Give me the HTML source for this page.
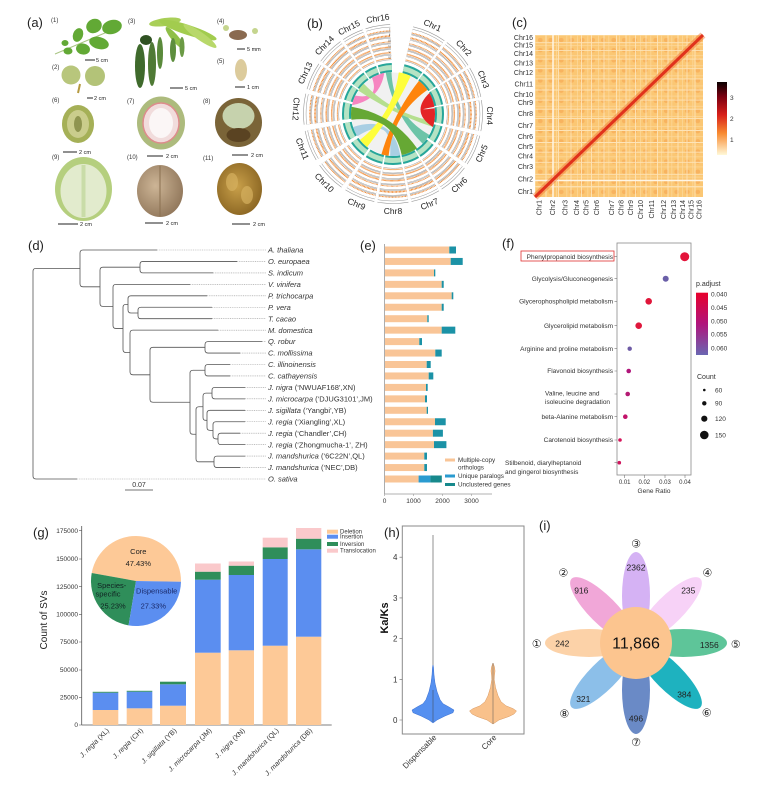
<!DOCTYPE html>
<html><head><meta charset="utf-8">
<style>
html,body{margin:0;padding:0;background:#fff;}
svg{display:block;font-family:"Liberation Sans",Arial,sans-serif;}
</style></head>
<body>
<svg width="784" height="790" viewBox="0 0 784 790" xmlns="http://www.w3.org/2000/svg">
<defs>
  <circle id="u" cx="0" cy="0" r="57.2958" fill="none" stroke-dasharray="0 13 22 2 20 2 20 2 20 3 20 3 20 2 19 2 20 2 20 3 20 4 20 4 20 3 18 2 18 2 14 2 16 2"/>
  <circle id="v" cx="0" cy="0" r="57.2958" fill="none" stroke-dasharray="0.6 0.4"/>
  <mask id="sec" maskUnits="userSpaceOnUse" x="0" y="0" width="784" height="790">
    <use href="#u" transform="translate(393 114) scale(1.2217) rotate(-90)" stroke="#fff" stroke-width="29.5"/>
  </mask>
  <linearGradient id="cbar" x1="0" y1="0" x2="0" y2="1">
    <stop offset="0" stop-color="#0a0000"/><stop offset="0.2" stop-color="#7a0010"/>
    <stop offset="0.45" stop-color="#d8201a"/><stop offset="0.7" stop-color="#f88a30"/>
    <stop offset="1" stop-color="#fff8d8"/>
  </linearGradient>
  <linearGradient id="pbar" x1="0" y1="0" x2="0" y2="1">
    <stop offset="0" stop-color="#e8002b"/><stop offset="0.5" stop-color="#b0147c"/><stop offset="1" stop-color="#6a67b2"/>
  </linearGradient>
  <pattern id="hp" x="535" y="35" width="10.5" height="10.125" patternUnits="userSpaceOnUse">
    <rect width="10.5" height="10.125" fill="#fbc774"/>
    <ellipse cx="5.25" cy="5.06" rx="2.4" ry="2.2" fill="#f5a24e" opacity="0.55"/>
    <rect x="0" y="0" width="10.5" height="0.7" fill="#fcd99c"/>
    <rect x="0" y="0" width="0.7" height="10.125" fill="#fcd99c"/>
  </pattern>
  <radialGradient id="nut" cx="0.4" cy="0.4" r="0.7">
    <stop offset="0" stop-color="#cdb596"/><stop offset="1" stop-color="#8c7256"/>
  </radialGradient>
  <radialGradient id="kern" cx="0.45" cy="0.45" r="0.6">
    <stop offset="0" stop-color="#c9a04a"/><stop offset="1" stop-color="#8a6522"/>
  </radialGradient>
</defs>

<!-- ============ (a) ============ -->
<text x="27" y="27" font-size="13" fill="#222">(a)</text>
<g font-size="6" fill="#333">
  <text x="51" y="22">(1)</text><text x="52" y="69">(2)</text><text x="128" y="23">(3)</text>
  <text x="217" y="23">(4)</text><text x="217" y="63">(5)</text><text x="52" y="102">(6)</text>
  <text x="127" y="103">(7)</text><text x="203" y="103">(8)</text><text x="52" y="159">(9)</text>
  <text x="127" y="159">(10)</text><text x="203" y="160">(11)</text>
</g>
<line x1="55" y1="54" x2="112" y2="30" stroke="#a9c583" stroke-width="1"/>
<g fill="#62a935">
  <ellipse cx="94" cy="26" rx="8" ry="7" transform="rotate(-30 94 26)"/>
  <ellipse cx="112" cy="27" rx="10" ry="7" transform="rotate(-15 112 27)"/>
  <ellipse cx="78" cy="35" rx="5" ry="7" transform="rotate(20 78 35)"/>
  <ellipse cx="99" cy="43" rx="10" ry="6" transform="rotate(15 99 43)"/>
  <ellipse cx="83" cy="49" rx="7" ry="5.5" transform="rotate(10 83 49)"/>
  <ellipse cx="68" cy="51" rx="4.5" ry="3.5"/>
  <ellipse cx="65" cy="43" rx="3.5" ry="3"/>
</g>
<g>
  <ellipse cx="165" cy="22" rx="16" ry="4" fill="#a9cf58" transform="rotate(-8 165 22)"/>
  <ellipse cx="188" cy="30" rx="30" ry="5" fill="#a2cc4e" transform="rotate(18 188 30)"/>
  <ellipse cx="200" cy="36" rx="20" ry="4" fill="#b8d86a" transform="rotate(35 200 36)"/>
  <ellipse cx="175" cy="38" rx="14" ry="3.5" fill="#8fbf48" transform="rotate(50 175 38)"/>
  <ellipse cx="140" cy="66" rx="5" ry="22" fill="#3f6a2c"/>
  <ellipse cx="152" cy="64" rx="4" ry="22" fill="#4f7a35"/>
  <ellipse cx="160" cy="53" rx="3" ry="16" fill="#5a8a3b"/>
  <ellipse cx="173" cy="50" rx="3" ry="12" fill="#5d8e3d"/>
  <ellipse cx="182" cy="47" rx="2.5" ry="10" fill="#6b9a45"/>
  <ellipse cx="146" cy="40" rx="6" ry="5" fill="#2f5222"/>
</g>
<ellipse cx="238" cy="35" rx="9" ry="5" fill="#8a6a50"/>
<circle cx="226" cy="28" r="3" fill="#c5d58e"/><circle cx="255" cy="31" r="3" fill="#c5d58e"/>
<ellipse cx="241" cy="70" rx="6" ry="11" fill="#dccb9c"/>
<line x1="80" y1="84" x2="78" y2="93" stroke="#b59a40" stroke-width="2"/>
<circle cx="71" cy="75" r="9.5" fill="#b8c67c"/><circle cx="95" cy="76" r="10" fill="#b3c378"/>
<ellipse cx="78" cy="124" rx="16" ry="19" fill="#a5b057"/>
<ellipse cx="78" cy="124" rx="11" ry="14" fill="#cacd8c"/>
<ellipse cx="78" cy="124" rx="4" ry="8" fill="#8f9550"/>
<ellipse cx="161" cy="123" rx="24" ry="26.5" fill="#adbb7d"/>
<ellipse cx="161" cy="123" rx="18" ry="20" fill="#f1dcdc" stroke="#dd8c8c" stroke-width="1.5"/>
<ellipse cx="161" cy="123" rx="12" ry="15" fill="#fbf6f6"/>
<ellipse cx="238.5" cy="122.5" rx="23.5" ry="24.5" fill="#7a6438"/>
<ellipse cx="238.5" cy="116" rx="16" ry="13" fill="#c6d2ad"/>
<ellipse cx="238.5" cy="135" rx="12" ry="7" fill="#5a4322"/>
<ellipse cx="83.5" cy="189" rx="28.5" ry="32" fill="#b5cf7e"/>
<ellipse cx="83.5" cy="191" rx="23" ry="27" fill="#e2ebcd"/>
<rect x="81.5" y="165" width="4" height="52" fill="#c9dca8"/>
<ellipse cx="160" cy="191" rx="23" ry="26" fill="url(#nut)"/>
<line x1="160" y1="166" x2="160" y2="216" stroke="#8a7050" stroke-width="1"/>
<ellipse cx="239.5" cy="189" rx="22.5" ry="26" fill="url(#kern)"/>
<ellipse cx="232" cy="182" rx="6" ry="9" fill="#d6b060" opacity="0.7"/>
<ellipse cx="247" cy="195" rx="6" ry="9" fill="#d6b060" opacity="0.7"/>
<g stroke="#222" stroke-width="1">
  <line x1="85" y1="60" x2="95" y2="60"/><line x1="87" y1="98" x2="93" y2="98"/>
  <line x1="170" y1="88" x2="183" y2="88"/><line x1="237" y1="49" x2="245" y2="49"/>
  <line x1="235" y1="87" x2="245" y2="87"/><line x1="63" y1="152" x2="77" y2="152"/>
  <line x1="147" y1="156" x2="163" y2="156"/><line x1="232" y1="155" x2="248" y2="155"/>
  <line x1="58" y1="224" x2="78" y2="224"/><line x1="145" y1="223" x2="163" y2="223"/>
  <line x1="232" y1="224" x2="250" y2="224"/>
</g>
<g font-size="5.5" fill="#222">
  <text x="96" y="62">5 cm</text><text x="94" y="100">2 cm</text><text x="185" y="90">5 cm</text>
  <text x="247" y="51">5 mm</text><text x="247" y="89">1 cm</text><text x="79" y="154">2 cm</text>
  <text x="166" y="158">2 cm</text><text x="251" y="157">2 cm</text><text x="80" y="226">2 cm</text>
  <text x="166" y="225">2 cm</text><text x="253" y="226">2 cm</text>
</g>

<!-- ============ (b) circos ============ -->
<text x="307" y="28" font-size="13" fill="#222">(b)</text>
<use href="#u" transform="translate(393 114) scale(1.5621) rotate(-90)" stroke="#999" stroke-width="0.384"/>
<use href="#u" transform="translate(393 114) scale(1.4765) rotate(-90)" stroke="#9a9a9a" stroke-width="3.522"/>
<use href="#u" transform="translate(393 114) scale(1.4765) rotate(-90)" stroke="#ffffff" stroke-width="2.845"/>
<use href="#u" transform="translate(393 114) scale(1.3788) rotate(-90)" stroke="#9a9a9a" stroke-width="3.771"/>
<use href="#u" transform="translate(393 114) scale(1.3788) rotate(-90)" stroke="#ffffff" stroke-width="3.046"/>
<use href="#u" transform="translate(393 114) scale(1.2811) rotate(-90)" stroke="#9a9a9a" stroke-width="4.059"/>
<use href="#u" transform="translate(393 114) scale(1.2811) rotate(-90)" stroke="#ffffff" stroke-width="3.278"/>
<use href="#u" transform="translate(393 114) scale(1.1833) rotate(-90)" stroke="#9a9a9a" stroke-width="4.394"/>
<use href="#u" transform="translate(393 114) scale(1.1833) rotate(-90)" stroke="#ffffff" stroke-width="3.549"/>
<use href="#u" transform="translate(393 114) scale(1.0856) rotate(-90)" stroke="#9a9a9a" stroke-width="4.790"/>
<use href="#u" transform="translate(393 114) scale(1.0856) rotate(-90)" stroke="#ffffff" stroke-width="3.869"/>
<use href="#u" transform="translate(393 114) scale(0.9879) rotate(-90)" stroke="#9a9a9a" stroke-width="5.264"/>
<use href="#u" transform="translate(393 114) scale(0.9879) rotate(-90)" stroke="#ffffff" stroke-width="4.251"/>
<g mask="url(#sec)">
<use href="#v" transform="translate(393 114) scale(1.4521)" stroke="#ef7d1c" stroke-width="0.7"/>
<use href="#v" transform="translate(393 114) scale(1.3614)" stroke="#ef7d1c" stroke-width="1.2"/>
<use href="#v" transform="translate(393 114) scale(1.2601)" stroke="#ef7d1c" stroke-width="0.8"/>
<use href="#v" transform="translate(393 114) scale(1.1659)" stroke="#ef7d1c" stroke-width="1.3"/>
<use href="#v" transform="translate(393 114) scale(1.0700)" stroke="#ef7d1c" stroke-width="1.4"/>
<use href="#v" transform="translate(393 114) scale(0.9704)" stroke="#ef7d1c" stroke-width="1.2"/>
</g>
<use href="#u" transform="translate(393 114) scale(0.8116) rotate(-90)" stroke="#26a69a" stroke-width="11.09"/>
<use href="#u" transform="translate(393 114) scale(0.8116) rotate(-90)" stroke="#b5e3c4" stroke-width="6.16"/>
<circle cx="393" cy="114" r="41.5" fill="#f1f1f1"/>
<g opacity="0.95">
<path d="M351.9 105.3 A42 42 0 0 1 355.2 95.6 Q380 100 372 77.6 A42 42 0 0 1 384.3 72.9 Q380 100 351.9 105.3Z" fill="#f781bf"/>
<path d="M400.3 155.4 A42 42 0 0 1 390.1 155.9 Q393 114 357.4 136.3 A42 42 0 0 1 353.1 127 Q393 114 400.3 155.4Z" fill="#a6cee3"/>
<path d="M429.4 135 A42 42 0 0 1 422.7 143.7 Q393 114 385.7 72.6 A42 42 0 0 1 391.5 72.0 Q393 114 429.4 135Z" fill="#66c2a5"/>
<path d="M434.4 121.3 A42 42 0 0 1 432.9 127 Q393 114 358.2 90.5 A42 42 0 0 1 363.8 83.8 Q393 114 434.4 121.3Z" fill="#b2df8a"/>
<path d="M398.8 72.4 A42 42 0 0 1 410.8 76.0 Q393 114 367.1 147.1 A42 42 0 0 1 359.9 139.9 Q393 114 398.8 72.4Z" fill="#ffff33"/>
<path d="M418.9 80.9 A42 42 0 0 1 427.4 89.9 Q393 114 388.6 155.8 A42 42 0 0 1 381.4 154.4 Q393 114 418.9 80.9Z" fill="#ff7f00"/>
<path d="M417.1 148.4 A42 42 0 0 1 401.7 155.1 Q393 114 351.4 119.8 A42 42 0 0 1 351.6 106.7 Q393 114 417.1 148.4Z" fill="#5fa52a"/>
<path d="M429.4 93 A42 42 0 0 1 434.4 106.7 Q412 111 434.6 108.2 A42 42 0 0 1 432.9 127 Q410 112 429.4 93Z" fill="#e41a1c"/>
</g>
<g font-size="3.6" fill="#555" text-anchor="middle">
  <text x="389.5" y="30.6">i</text><text x="389.5" y="36.2">ii</text><text x="389.5" y="41.8">iii</text>
  <text x="389.5" y="47.4">iv</text><text x="389.5" y="53">v</text><text x="389.5" y="58.6">vi</text>
</g>
<g font-size="8.5" fill="#222" text-anchor="middle" dominant-baseline="central">
  <text transform="translate(432.5 25.3) rotate(24)">Chr1</text>
  <text transform="translate(463.9 47.8) rotate(47)">Chr2</text>
  <text transform="translate(483.6 79.3) rotate(69)">Chr3</text>
  <text transform="translate(490 115.7) rotate(91)">Chr4</text>
  <text transform="translate(481.6 153.4) rotate(-66)">Chr5</text>
  <text transform="translate(459.2 184.9) rotate(-43)">Chr6</text>
  <text transform="translate(429.4 203.9) rotate(-22)">Chr7</text>
  <text transform="translate(393 211) rotate(0)">Chr8</text>
  <text transform="translate(356.6 203.9) rotate(22)">Chr9</text>
  <text transform="translate(324.4 182.6) rotate(45)">Chr10</text>
  <text transform="translate(302.4 148.7) rotate(69)">Chr11</text>
  <text transform="translate(296.1 109) rotate(93)">Chr12</text>
  <text transform="translate(305.1 73) rotate(-65)">Chr13</text>
  <text transform="translate(324.4 45.4) rotate(-45)">Chr14</text>
  <text transform="translate(349 27.6) rotate(-27)">Chr15</text>
  <text transform="translate(377.9 18.2) rotate(-9)">Chr16</text>
</g>

<!-- ============ (c) heatmap ============ -->
<text x="512" y="27" font-size="13" fill="#222">(c)</text>
<rect x="535" y="35" width="168" height="162" fill="url(#hp)"/>
<g stroke="#fde4b8" stroke-width="0.9">
  <path d="M546 35V197M558.5 35V197M571 35V197M581.5 35V197M591.5 35V197M604 35V197M616.5 35V197M626 35V197M635.5 35V197M646 35V197M657.5 35V197M668 35V197M678 35V197M687 35V197M695 35V197"/>
  <path d="M535 186.4H703M535 174.3H703M535 162.3H703M535 152.2H703M535 142.5H703M535 130.5H703M535 118.4H703M535 109.2H703M535 100.1H703M535 90H703M535 78.9H703M535 68.7H703M535 59.1H703M535 50.4H703M535 42.7H703"/>
</g>
<line x1="553" y1="35" x2="553" y2="197" stroke="#fff6e6" stroke-width="1.5"/>
<line x1="535" y1="180.5" x2="703" y2="180.5" stroke="#fff6e6" stroke-width="1.5"/>
<line x1="535" y1="197" x2="703" y2="35" stroke="#f07030" stroke-width="7" opacity="0.45"/>
<line x1="535" y1="197" x2="703" y2="35" stroke="#e0321c" stroke-width="3"/>
<g font-size="7" fill="#333" text-anchor="end">
  <text x="533" y="40">Chr16</text><text x="533" y="47.5">Chr15</text><text x="533" y="56">Chr14</text>
  <text x="533" y="65.5">Chr13</text><text x="533" y="75">Chr12</text><text x="533" y="86.5">Chr11</text>
  <text x="533" y="96.8">Chr10</text><text x="533" y="105">Chr9</text><text x="533" y="115.8">Chr8</text>
  <text x="533" y="128">Chr7</text><text x="533" y="139">Chr6</text><text x="533" y="149">Chr5</text>
  <text x="533" y="158.5">Chr4</text><text x="533" y="169">Chr3</text><text x="533" y="181.5">Chr2</text>
  <text x="533" y="194">Chr1</text>
</g>
<g font-size="7" fill="#333" text-anchor="end">
  <text transform="translate(541.5 200) rotate(-90)">Chr1</text>
  <text transform="translate(554.8 200) rotate(-90)">Chr2</text>
  <text transform="translate(567.5 200) rotate(-90)">Chr3</text>
  <text transform="translate(579.2 200) rotate(-90)">Chr4</text>
  <text transform="translate(588.5 200) rotate(-90)">Chr5</text>
  <text transform="translate(599.2 200) rotate(-90)">Chr6</text>
  <text transform="translate(614.2 200) rotate(-90)">Chr7</text>
  <text transform="translate(623.5 200) rotate(-90)">Chr8</text>
  <text transform="translate(633.2 200) rotate(-90)">Chr9</text>
  <text transform="translate(643.2 200) rotate(-90)">Chr10</text>
  <text transform="translate(654.2 200) rotate(-90)">Chr11</text>
  <text transform="translate(665.8 200) rotate(-90)">Chr12</text>
  <text transform="translate(675.8 200) rotate(-90)">Chr13</text>
  <text transform="translate(685.2 200) rotate(-90)">Chr14</text>
  <text transform="translate(693.5 200) rotate(-90)">Chr15</text>
  <text transform="translate(701.5 200) rotate(-90)">Chr16</text>
</g>
<rect x="717" y="82" width="10" height="73" fill="url(#cbar)"/>
<g font-size="6.5" fill="#333">
  <text x="730" y="100">3</text><text x="730" y="121">2</text><text x="730" y="142">1</text>
</g>

<!-- ============ (d) tree ============ -->
<text x="28" y="250" font-size="13" fill="#222">(d)</text>
<g fill="none" stroke="#555" stroke-width="0.8">
<path d="M80 268.4H36Q33 268.4 33 271.4V476Q33 479 36 479H77"/>
<path d="M157 250H83Q80 250 80 253V283.79Q80 286.79 83 286.79H100"/>
<path d="M140 267.18H103Q100 267.18 100 270.18V303.4Q100 306.4 103 306.4H113"/>
<path d="M237 261.45H143Q140 261.45 140 264.45V269.9Q140 272.9 143 272.9H213"/>
<path d="M190 284.35H116Q113 284.35 113 287.35V325.44Q113 328.44 116 328.44H123"/>
<path d="M128 304.39H126Q123 304.39 123 307.39V349.48Q123 352.48 126 352.48H130"/>
<path d="M207 295.8H131Q128 295.8 128 298.8V309.98Q128 312.98 131 312.98H138"/>
<path d="M212 307.25H141Q138 307.25 138 310.25V315.7Q138 318.7 141 318.7H212"/>
<path d="M218 330.15H133Q130 330.15 130 333.15V371.8Q130 374.8 133 374.8H150"/>
<path d="M205 347.33H153Q150 347.33 150 350.33V399.26Q150 402.26 153 402.26H190"/>
<path d="M262 341.6H208Q205 341.6 205 344.6V350.05Q205 353.05 208 353.05H240"/>
<path d="M205 370.23H193Q190 370.23 190 373.23V431.28Q190 434.28 193 434.28H196"/>
<path d="M230 364.5H208Q205 364.5 205 367.5V372.95Q205 375.95 208 375.95H230"/>
<path d="M203 406.73H199Q196 406.73 196 409.73V458.83Q196 461.83 199 461.83H214"/>
<path d="M212 393.13H206Q203 393.13 203 396.13V417.32Q203 420.32 206 420.32H207"/>
<path d="M245 387.4H215Q212 387.4 212 390.4V395.85Q212 398.85 215 398.85H245"/>
<path d="M245 410.3H210Q207 410.3 207 413.3V427.34Q207 430.34 210 430.34H213"/>
<path d="M245 421.75H216Q213 421.75 213 424.75V435.93Q213 438.93 216 438.93H218"/>
<path d="M240 433.2H221Q218 433.2 218 436.2V441.65Q218 444.65 221 444.65H245"/>
<path d="M245 456.1H217Q214 456.1 214 459.1V464.55Q214 467.55 217 467.55H240"/>
</g>
<path d="M157 250H266M237 261.45H266M213 272.9H266M190 284.35H266M207 295.8H266M212 307.25H266M212 318.7H266M218 330.15H266M262 341.6H266M240 353.05H266M230 364.5H266M230 375.95H266M245 387.4H266M245 398.85H266M245 410.3H266M245 421.75H266M240 433.2H266M245 444.65H266M245 456.1H266M240 467.55H266M77 479H266" fill="none" stroke="#999" stroke-width="0.6" stroke-dasharray="1 0.8"/>
<g font-size="7.5" fill="#333">
  <text x="268" y="252.6" font-style="italic">A. thaliana</text>
  <text x="268" y="264" font-style="italic">O. europaea</text>
  <text x="268" y="275.5" font-style="italic">S. indicum</text>
  <text x="268" y="287" font-style="italic">V. vinifera</text>
  <text x="268" y="298.4" font-style="italic">P. trichocarpa</text>
  <text x="268" y="309.9" font-style="italic">P. vera</text>
  <text x="268" y="321.3" font-style="italic">T. cacao</text>
  <text x="268" y="332.8" font-style="italic">M. domestica</text>
  <text x="268" y="344.2" font-style="italic">Q. robur</text>
  <text x="268" y="355.7" font-style="italic">C. mollissima</text>
  <text x="268" y="367.1" font-style="italic">C.  illinoinensis</text>
  <text x="268" y="378.6" font-style="italic">C. cathayensis</text>
  <text x="268" y="390"><tspan font-style="italic">J. nigra</tspan> (‘NWUAF168’,XN)</text>
  <text x="268" y="401.5"><tspan font-style="italic">J. microcarpa</tspan> (‘DJUG3101’,JM)</text>
  <text x="268" y="412.9"><tspan font-style="italic">J. sigillata</tspan> (‘Yangbi’,YB)</text>
  <text x="268" y="424.4"><tspan font-style="italic">J. regia</tspan> (‘Xiangling’,XL)</text>
  <text x="268" y="435.8"><tspan font-style="italic">J. regia</tspan> (‘Chandler’,CH)</text>
  <text x="268" y="447.3"><tspan font-style="italic">J. regia</tspan> (‘Zhongmucha-1’, ZH)</text>
  <text x="268" y="458.7"><tspan font-style="italic">J. mandshurica</tspan> (‘6C22N’,QL)</text>
  <text x="268" y="470.2"><tspan font-style="italic">J. mandshurica</tspan> (‘NEC’,DB)</text>
  <text x="268" y="481.6" font-style="italic">O. sativa</text>
</g>
<line x1="125" y1="490" x2="153" y2="490" stroke="#444" stroke-width="0.8"/>
<text x="139" y="487" font-size="7" fill="#333" text-anchor="middle">0.07</text>

<!-- ============ (e) bars ============ -->
<text x="360" y="250" font-size="13" fill="#222">(e)</text>
<line x1="384.5" y1="244" x2="384.5" y2="494" stroke="#999" stroke-width="0.8"/>
<line x1="384.5" y1="494" x2="492" y2="494" stroke="#999" stroke-width="0.8"/>
<g fill="#f9c597">
  <rect x="385" y="246.5" width="64.3" height="7"/><rect x="385" y="257.95" width="65.7" height="7"/>
  <rect x="385" y="269.4" width="49" height="7"/><rect x="385" y="280.85" width="56.7" height="7"/>
  <rect x="385" y="292.3" width="66.7" height="7"/><rect x="385" y="303.75" width="56.7" height="7"/>
  <rect x="385" y="315.2" width="42.3" height="7"/><rect x="385" y="326.65" width="56.7" height="7"/>
  <rect x="385" y="338.1" width="34.3" height="7"/><rect x="385" y="349.55" width="50.3" height="7"/>
  <rect x="385" y="361" width="41.7" height="7"/><rect x="385" y="372.45" width="43.7" height="7"/>
  <rect x="385" y="383.9" width="41" height="7"/><rect x="385" y="395.35" width="40" height="7"/>
  <rect x="385" y="406.8" width="41.7" height="7"/><rect x="385" y="418.25" width="50" height="7"/>
  <rect x="385" y="429.7" width="47.9" height="7"/><rect x="385" y="441.15" width="49" height="7"/>
  <rect x="385" y="452.6" width="39.3" height="7"/><rect x="385" y="464.05" width="39.3" height="7"/>
  <rect x="385" y="475.5" width="33.6" height="7"/>
</g>
<g fill="#1b92a6">
  <rect x="449.3" y="246.5" width="6.7" height="7"/><rect x="450.7" y="257.95" width="12" height="7"/>
  <rect x="434" y="269.4" width="1.3" height="7"/><rect x="441.7" y="280.85" width="2" height="7"/>
  <rect x="451.7" y="292.3" width="1.6" height="7"/><rect x="441.7" y="303.75" width="2" height="7"/>
  <rect x="427.3" y="315.2" width="1.4" height="7"/><rect x="441.7" y="326.65" width="13.6" height="7"/>
  <rect x="419.3" y="338.1" width="2.7" height="7"/><rect x="435.3" y="349.55" width="6.4" height="7"/>
  <rect x="426.7" y="361" width="4" height="7"/><rect x="428.7" y="372.45" width="4.6" height="7"/>
  <rect x="426" y="383.9" width="1.7" height="7"/><rect x="425" y="395.35" width="2" height="7"/>
  <rect x="426.7" y="406.8" width="1.3" height="7"/><rect x="435" y="418.25" width="10.7" height="7"/>
  <rect x="432.9" y="429.7" width="10" height="7"/><rect x="434" y="441.15" width="12.4" height="7"/>
  <rect x="424.3" y="452.6" width="2.7" height="7"/><rect x="424.3" y="464.05" width="2.7" height="7"/>
</g>
<rect x="418.6" y="475.5" width="11.8" height="7" fill="#2a9bd0"/>
<rect x="430.4" y="475.5" width="11.4" height="7" fill="#17898c"/>
<g font-size="6.5" fill="#333" text-anchor="middle">
  <text x="384.5" y="503">0</text><text x="413.5" y="503">1000</text>
  <text x="442.5" y="503">2000</text><text x="471.5" y="503">3000</text>
</g>
<g stroke="#999" stroke-width="0.6">
  <line x1="384.5" y1="494" x2="384.5" y2="496"/><line x1="413.5" y1="494" x2="413.5" y2="496"/>
  <line x1="442.5" y1="494" x2="442.5" y2="496"/><line x1="471.5" y1="494" x2="471.5" y2="496"/>
</g>
<rect x="445" y="458.5" width="10" height="3" fill="#f9c597"/>
<rect x="445" y="474.5" width="10" height="3" fill="#2a9bd0"/>
<rect x="445" y="483" width="10" height="3" fill="#17898c"/>
<g font-size="6.3" fill="#333">
  <text x="458" y="462">Multiple-copy</text><text x="458" y="469.5">orthologs</text>
  <text x="458" y="478">Unique paralogs</text><text x="458" y="486.5">Unclustered genes</text>
</g>

<!-- ============ (f) dot plot ============ -->
<text x="502" y="248" font-size="13" fill="#222">(f)</text>
<rect x="617" y="243" width="74" height="232" fill="none" stroke="#8a8a8a" stroke-width="0.8"/>
<rect x="521" y="251" width="93" height="10" fill="none" stroke="#e03030" stroke-width="0.8"/>
<g font-size="6.5" fill="#333" text-anchor="end">
  <text x="613" y="259">Phenylpropanoid biosynthesis</text>
  <text x="613" y="281">Glycolysis/Gluconeogenesis</text>
  <text x="613" y="303.5">Glycerophospholipid metabolism</text>
  <text x="613" y="328">Glycerolipid metabolism</text>
  <text x="613" y="351">Arginine and proline metabolism</text>
  <text x="613" y="373">Flavonoid biosynthesis</text>
  <text x="613" y="419">beta-Alanine metabolism</text>
  <text x="613" y="442">Carotenoid biosynthesis</text>
</g>
<g font-size="6.5" fill="#333">
  <text x="545" y="395.5">Valine, leucine and</text>
  <text x="545" y="403.8">isoleucine degradation</text>
  <text x="505" y="465">Stilbenoid, diarylheptanoid</text>
  <text x="505" y="474">and gingerol biosynthesis</text>
</g>
<g stroke="#777" stroke-width="0.6">
  <path d="M614.5 256.7H617M614.5 278.7H617M614.5 301.3H617M614.5 325.7H617M614.5 348.7H617M614.5 371H617M614.5 394H617M614.5 416.7H617M614.5 440H617M614.5 462.7H617"/>
  <path d="M624.7 475V478M644.3 475V478M665 475V478M685 475V478"/>
</g>
<circle cx="684.7" cy="256.7" r="4.5" fill="#e3143b"/>
<circle cx="665.7" cy="278.7" r="3" fill="#6a5fa8"/>
<circle cx="648.7" cy="301.3" r="3.3" fill="#e0163a"/>
<circle cx="638.7" cy="325.7" r="3.3" fill="#df173c"/>
<circle cx="629.7" cy="348.7" r="2.2" fill="#6d5aa5"/>
<circle cx="628.7" cy="371" r="2.3" fill="#b0157a"/>
<circle cx="627.7" cy="394" r="2.3" fill="#b41a73"/>
<circle cx="625.3" cy="416.7" r="2.3" fill="#c2136a"/>
<circle cx="620" cy="440" r="1.8" fill="#d6145a"/>
<circle cx="619.3" cy="462.7" r="1.8" fill="#d0155e"/>
<g font-size="6" fill="#333" text-anchor="middle">
  <text x="624.7" y="484">0.01</text><text x="644.3" y="484">0.02</text>
  <text x="665" y="484">0.03</text><text x="685" y="484">0.04</text>
</g>
<text x="654" y="493" font-size="6.5" fill="#333" text-anchor="middle">Gene Ratio</text>
<text x="696" y="286" font-size="7" fill="#333">p.adjust</text>
<rect x="696" y="292.7" width="12" height="62.3" fill="url(#pbar)"/>
<g font-size="6.5" fill="#333">
  <text x="711" y="296.5">0.040</text><text x="711" y="310">0.045</text><text x="711" y="323.3">0.050</text>
  <text x="711" y="336.6">0.055</text><text x="711" y="350.6">0.060</text>
  <text x="697" y="379" font-size="7">Count</text>
  <text x="715" y="392.3">60</text><text x="715" y="405.6">90</text>
  <text x="715" y="421">120</text><text x="715" y="437.3">150</text>
</g>
<circle cx="704.3" cy="390" r="1.3" fill="#111"/>
<circle cx="704.3" cy="403.3" r="2.2" fill="#111"/>
<circle cx="704.3" cy="418.7" r="3.1" fill="#111"/>
<circle cx="704.3" cy="435" r="4.3" fill="#111"/>

<!-- ============ (g) stacked bars ============ -->
<text x="33" y="537" font-size="13" fill="#222">(g)</text>
<line x1="81.7" y1="526" x2="81.7" y2="725" stroke="#555" stroke-width="0.8"/>
<line x1="81.7" y1="725" x2="331.7" y2="725" stroke="#555" stroke-width="0.8"/>
<g stroke="#555" stroke-width="0.6">
  <path d="M79 725H81.7M79 697.3H81.7M79 670H81.7M79 642H81.7M79 614.3H81.7M79 586.7H81.7M79 559H81.7M79 530.7H81.7"/>
</g>
<g font-size="6.5" fill="#333" text-anchor="end">
  <text x="78" y="727.2">0</text><text x="78" y="699.5">25000</text><text x="78" y="672.2">50000</text>
  <text x="78" y="644.2">75000</text><text x="78" y="616.5">100000</text><text x="78" y="588.9">125000</text>
  <text x="78" y="561.2">150000</text><text x="78" y="532.9">175000</text>
</g>
<text transform="translate(47 620) rotate(-90)" font-size="10" fill="#222" text-anchor="middle">Count of SVs</text>
<g fill="#fdc997">
  <rect x="92.7" y="710" width="25.6" height="15"/><rect x="126.7" y="708.3" width="25.6" height="16.7"/>
  <rect x="160" y="705.7" width="26" height="19.3"/><rect x="195" y="652.7" width="25.7" height="72.3"/>
  <rect x="228.7" y="650.3" width="25.3" height="74.7"/><rect x="262.7" y="645.7" width="25" height="79.3"/>
  <rect x="296" y="636.7" width="25.3" height="88.3"/>
</g>
<g fill="#5b8ef0">
  <rect x="92.7" y="692.7" width="25.6" height="17.3"/><rect x="126.7" y="691.7" width="25.6" height="16.6"/>
  <rect x="160" y="684.3" width="26" height="21.4"/><rect x="195" y="579.7" width="25.7" height="73"/>
  <rect x="228.7" y="575" width="25.3" height="75.3"/><rect x="262.7" y="559" width="25" height="86.7"/>
  <rect x="296" y="549.3" width="25.3" height="87.4"/>
</g>
<g fill="#2f8e5a">
  <rect x="92.7" y="691.8" width="25.6" height="0.9"/><rect x="126.7" y="690.8" width="25.6" height="0.9"/>
  <rect x="160" y="681.7" width="26" height="2.6"/><rect x="195" y="571.7" width="25.7" height="8"/>
  <rect x="228.7" y="565.7" width="25.3" height="9.3"/><rect x="262.7" y="547.3" width="25" height="11.7"/>
  <rect x="296" y="538.7" width="25.3" height="10.6"/>
</g>
<g fill="#fac9cb">
  <rect x="195" y="563.5" width="25.7" height="8.2"/><rect x="228.7" y="561.5" width="25.3" height="4.2"/>
  <rect x="262.7" y="537.7" width="25" height="9.6"/><rect x="296" y="528" width="25.3" height="10.7"/>
</g>
<path d="M136 581L180.99 581.79A45 45 0 0 0 91.72 572.95Z" fill="#fdc997"/>
<path d="M136 581L91.72 572.95A45 45 0 0 0 128.57 625.38Z" fill="#2f8e5a"/>
<path d="M136 581L128.57 625.38A45 45 0 0 0 180.99 581.79Z" fill="#5b8ef0"/>
<g font-size="7.5" text-anchor="middle">
  <text x="138.3" y="554" fill="#222">Core</text>
  <text x="138.3" y="566" fill="#222">47.43%</text>
  <text x="111.7" y="588" fill="#122">Species-</text>
  <text x="108" y="596.5" fill="#122">specific</text>
  <text x="113" y="608.5" fill="#122">25.23%</text>
  <text x="156.7" y="593.5" fill="#1a2a6a">Dispensable</text>
  <text x="153.3" y="608.5" fill="#1a2a6a">27.33%</text>
</g>
<rect x="327" y="529.7" width="11" height="4" fill="#fdc997"/>
<rect x="327" y="534.7" width="11" height="4" fill="#5b8ef0"/>
<rect x="327" y="542" width="11" height="4" fill="#2f8e5a"/>
<rect x="327" y="548.7" width="11" height="4" fill="#fac9cb"/>
<g font-size="6" fill="#333">
  <text x="340" y="533.7">Deletion</text><text x="340" y="538.7">Insertion</text>
  <text x="340" y="546">Inversion</text><text x="340" y="552.7">Translocation</text>
</g>
<g font-size="7" fill="#333" text-anchor="end">
  <text transform="translate(109.5 731) rotate(-45)"><tspan font-style="italic">J. regia</tspan> (XL)</text>
  <text transform="translate(143.5 731) rotate(-45)"><tspan font-style="italic">J. regia</tspan> (CH)</text>
  <text transform="translate(177 731) rotate(-45)"><tspan font-style="italic">J. sigillata</tspan> (YB)</text>
  <text transform="translate(212 731) rotate(-45)"><tspan font-style="italic">J. microcarpa</tspan> (JM)</text>
  <text transform="translate(245.3 731) rotate(-45)"><tspan font-style="italic">J. nigra</tspan> (XN)</text>
  <text transform="translate(279.2 731) rotate(-45)"><tspan font-style="italic">J. mandshurica</tspan> (QL)</text>
  <text transform="translate(312.7 731) rotate(-45)"><tspan font-style="italic">J. mandshurica</tspan> (DB)</text>
</g>

<!-- ============ (h) violin ============ -->
<text x="384" y="537" font-size="13" fill="#222">(h)</text>
<rect x="402.3" y="526" width="121.7" height="208" fill="none" stroke="#8a8a8a" stroke-width="1"/>
<g stroke="#666" stroke-width="0.6">
  <path d="M399.5 720H402.3M399.5 679.3H402.3M399.5 638.6H402.3M399.5 597.9H402.3M399.5 557.2H402.3"/>
</g>
<g font-size="8" fill="#333" text-anchor="end">
  <text x="397.5" y="723">0</text><text x="397.5" y="682.3">1</text><text x="397.5" y="641.6">2</text>
  <text x="397.5" y="600.9">3</text><text x="397.5" y="560.2">4</text>
</g>
<text transform="translate(388 618) rotate(-90)" font-size="11" fill="#111" text-anchor="middle" font-weight="bold">Ka/Ks</text>
<line x1="433" y1="535" x2="433" y2="723" stroke="#777" stroke-width="0.8"/>
<path d="M433 665L433.5 667L434 675L435 683L437 691.5L440 699.6L443 703.7L449 707L454 710L453 712.7L445 716L437 720L433 723L429 720L421 716L413 712.7L412 710L417 707L423 703.7L426 699.6L429 691.5L431 683L432 675L432.5 667Z" fill="#5590f0" stroke="#3a6fd0" stroke-width="0.5"/>
<line x1="433" y1="690" x2="433" y2="722" stroke="#444" stroke-width="0.5"/>
<path d="M493 663L494.5 667L495 671L494.5 675L494.2 679.3L495.5 687.4L498 695.6L501 701.7L506 705.8L513 708.6L516.5 711L514 714L509 716.5L499 720L493 724L487 720L477 716.5L472 714L469.5 711L473 708.6L480 705.8L485 701.7L488 695.6L490.5 687.4L491.8 679.3L491.5 675L491 671L491.5 667Z" fill="#f9c18b" stroke="#d89860" stroke-width="0.5"/>
<line x1="493" y1="663" x2="493" y2="724" stroke="#555" stroke-width="0.5"/>
<g font-size="8" fill="#333" text-anchor="end">
  <text transform="translate(437 738) rotate(-45)">Dispensable</text>
  <text transform="translate(497 738) rotate(-45)">Core</text>
</g>

<!-- ============ (i) flower ============ -->
<text x="539" y="530" font-size="13" fill="#222">(i)</text>
<g>
  <ellipse cx="683" cy="643" rx="44" ry="14" fill="#fcd2a8" transform="rotate(180 636 643)"/>
  <ellipse cx="683" cy="643" rx="44" ry="14" fill="#f1a7d8" transform="rotate(225 636 643)"/>
  <ellipse cx="683" cy="643" rx="44" ry="14" fill="#d5b2f4" transform="rotate(270 636 643)"/>
  <ellipse cx="683" cy="643" rx="44" ry="14" fill="#f7d2f7" transform="rotate(315 636 643)"/>
  <ellipse cx="683" cy="643" rx="44" ry="14" fill="#5ec599" transform="rotate(0 636 643)"/>
  <ellipse cx="683" cy="643" rx="44" ry="14" fill="#1eb2bf" transform="rotate(45 636 643)"/>
  <ellipse cx="683" cy="643" rx="44" ry="14" fill="#8cbfe9" transform="rotate(135 636 643)"/>
  <ellipse cx="683" cy="643" rx="44" ry="14" fill="#6a8ac6" transform="rotate(90 636 643)"/>
</g>
<circle cx="636" cy="643" r="36" fill="#fcc58f"/>
<text x="636" y="648.5" font-size="16" fill="#111" text-anchor="middle">11,866</text>
<g font-size="8.5" fill="#222" text-anchor="middle">
  <text x="562.3" y="646.3">242</text><text x="581.3" y="593.7">916</text>
  <text x="636" y="570.3">2362</text><text x="688.3" y="593.7">235</text>
  <text x="709.3" y="648">1356</text><text x="684.3" y="697.7">384</text>
  <text x="636" y="721.7">496</text><text x="583.3" y="702">321</text>
</g>
<g font-family="DejaVu Sans, sans-serif" font-size="11" fill="#222" text-anchor="middle">
  <text x="536.7" y="647.3">①</text><text x="563.3" y="576.7">②</text>
  <text x="636" y="547.3">③</text><text x="707.3" y="576.7">④</text>
  <text x="735.7" y="648">⑤</text><text x="706.7" y="716.7">⑥</text>
  <text x="636" y="746">⑦</text><text x="564.3" y="717.3">⑧</text>
</g>
</svg>
</body></html>
